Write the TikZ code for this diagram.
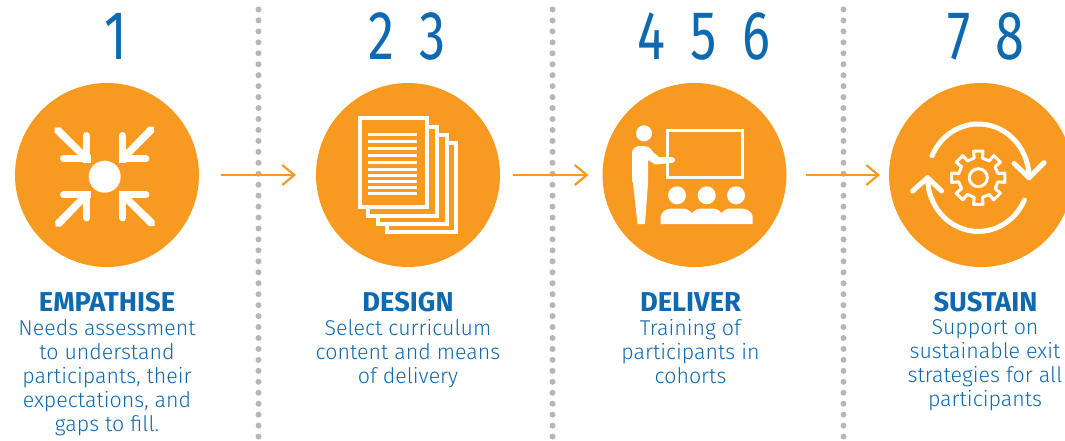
\documentclass[tikz,border=0pt]{standalone}
\usepackage{fontspec}
\setmainfont{Fira Sans Light}[BoldFont={Fira Sans Bold}]
\newfontfamily\numfont[FakeStretch=0.76]{Fira Sans}
\usetikzlibrary{arrows.meta}
\definecolor{orng}{HTML}{F89A20}
\definecolor{blu}{HTML}{0F69AF}
\definecolor{dotg}{HTML}{B5B6BA}
\tikzset{
  disc/.style={circle,fill=orng,draw=none,minimum size=184pt,inner sep=0pt,outer sep=0pt},
  dotline/.style={dotg,line width=6pt,line cap=round,dash pattern=on 0pt off 10.95pt},
  flow/.style={orng,line width=2.4pt,-{Straight Barb[length=12pt,width=20pt,line width=2.2pt]}},
  numb/.style={blu,inner sep=0pt,font=\numfont\fontsize{69}{69}\selectfont},
  ttl/.style={blu,inner sep=0pt,align=center,font=\fontsize{27.3}{27.3}\selectfont\bfseries},
  body/.style={blu,inner sep=0pt,align=center,anchor=north,font=\fontsize{21.4}{24}\selectfont},
  ico/.style={white,line width=4pt},
}
\begin{document}
\begin{tikzpicture}[x=1pt,y=-1pt]
\useasboundingbox (0,0) rectangle (1065,440);
\clip (0,0) rectangle (1065,440);
% separators
\draw[dotline] (258.5,9.5) -- (258.5,438);
\draw[dotline] (552.5,9.5) -- (552.5,438);
\draw[dotline] (843.5,9.5) -- (843.5,438);
% discs
\node[disc] (c1) at (107,175) {};
\node[disc] (c2) at (408,175) {};
\node[disc] (c3) at (694.5,175) {};
\node[disc] (c4) at (981,175) {};
% connectors
\draw[flow,shorten <=22pt,shorten >=20pt] (c1.east) -- (c2.west);
\draw[flow,shorten <=13pt,shorten >=14pt] (c2.east) -- (c3.west);
\draw[flow,shorten <=19pt,shorten >=9pt] (c3.east) -- (c4.west);
% numbers
\node[numb] (n1) at (116,36) {1};
\node[numb] (n2) at (407,36) {{\spaceskip=25pt 2 3}};
\node[numb] (n3) at (704,36) {{\spaceskip=25pt 4 5 6}};
\node[numb] (n4) at (986,36) {{\spaceskip=25pt 7 8}};
% titles
\node[ttl] (t1) at (107,302.5) {EMPATHISE};
\node[ttl] (t2) at (408,302.5) {DESIGN};
\node[ttl] (t3) at (690.5,302.5) {DELIVER};
\node[ttl] (t4) at (985.5,302.5) {SUSTAIN};
% bodies
\node[body] (b1) at (107,319) {Needs assessment\\to understand\\participants, their\\expectations, and\\gaps to fill.};
\node[body] (b2) at (408,319) {Select curriculum\\content and means\\of delivery};
\node[body] (b3) at (690.5,319) {Training of\\participants in\\cohorts};
\node[body] (b4) at (985,319) {Support on\\sustainable exit\\strategies for all\\participants};
% icon 1
\fill[white] (104.7,176.7) circle[radius=16];
\foreach \a in {0,90,180,270}{
 \begin{scope}[shift={(104.7,176.7)},rotate=\a]
  \fill[white] (-50,-49) -- (-44.5,-49.5) -- (-17,-22) -- (-22,-17) -- (-50,-44) -- cycle;
  \draw[white,line width=7.5pt,line cap=round] (-18,-41) -- (-18,-18) -- (-41,-18);
  \fill[white] (-21.5,-21.5) rectangle (-14,-14);
 \end{scope}
}
% icon 2
\draw[ico] (359.7,118) rectangle (427,207);
\draw[ico] (429,127) -- (436.7,127) -- (436.7,215.7) -- (368.3,215.7) -- (368.3,209);
\draw[ico] (438.7,134.7) -- (446.7,134.7) -- (446.7,223.7) -- (378.3,223.7) -- (378.3,217.7);
\draw[ico] (448.7,143) -- (456,143) -- (456,231.7) -- (387.3,231.7) -- (387.3,225.7);
\foreach \y in {134.3,141.3,148.3,155.3,162.3,169.3,175.3,181.3,187.3,193.3}
  \draw[white,line width=3pt] (368,\y) -- (417,\y);
% icon 3
\draw[white,line width=3pt] (667,130) rectangle (742.7,177.7);
\fill[white] (644,133.3) circle[radius=8];
\fill[white] (632,155) .. controls (632,147) and (636,146) .. (642,146) .. controls (649,146) and (650,148) .. (654,153) -- (659,157) -- (672,157) .. controls (676,157) and (676,163) .. (672,163) -- (655,164.5) -- (648,160) -- (648,183) -- (645,224) -- (637.5,224) -- (633,183) -- (632,181) -- cycle;
\foreach \x in {677,706.7,736} \fill[white] (\x,195.3) circle[radius=9];
\fill[white] (660.7,224) -- (660.7,217) .. controls (661,212) and (666,208.5) .. (672,208.5) -- (682,208.5) .. controls (686,208.5) and (689,210) .. (692,213) .. controls (695,210) and (698,208.5) .. (702,208.5) -- (712,208.5) .. controls (716,208.5) and (719,210) .. (721.5,213) .. controls (724,210) and (727,208.5) .. (731,208.5) -- (741,208.5) .. controls (747,208.5) and (752.7,212) .. (752.7,217) -- (752.7,224) -- cycle;
% icon 4
\begin{scope}[shift={(978.3,177.7)}]
 \draw[white,line width=3pt] (0,0) circle[radius=9];
 \draw[white,line width=3pt,line join=round] (-12:20)
  \foreach \k [evaluate=\k as \t using \k*45] in {0,...,7}{
    -- (\t-12:20) -- (\t-10:27) -- (\t+10:27) -- (\t+12:20) -- (\t+33:20)
  } -- cycle;
 \draw[white,line width=5pt,line cap=round,line join=round]
   plot[domain=156:0,samples=50,smooth] ({50.7*cos(\x)},{-53.7*sin(\x)});
 \draw[white,line width=5pt,line cap=round,line join=round]
   (50.7-15,-14.3) -- (50.7,0) -- (50.7+15,-15);
 \draw[white,line width=5pt,line cap=round,line join=round]
   plot[domain=-24.6:-180,samples=50,smooth] ({50.7*cos(\x)},{-53.7*sin(\x)});
 \draw[white,line width=5pt,line cap=round,line join=round]
   (-50.7-15,13.3) -- (-50.7,0) -- (-50.7+14,13.3);
\end{scope}
\end{tikzpicture}
\end{document}
